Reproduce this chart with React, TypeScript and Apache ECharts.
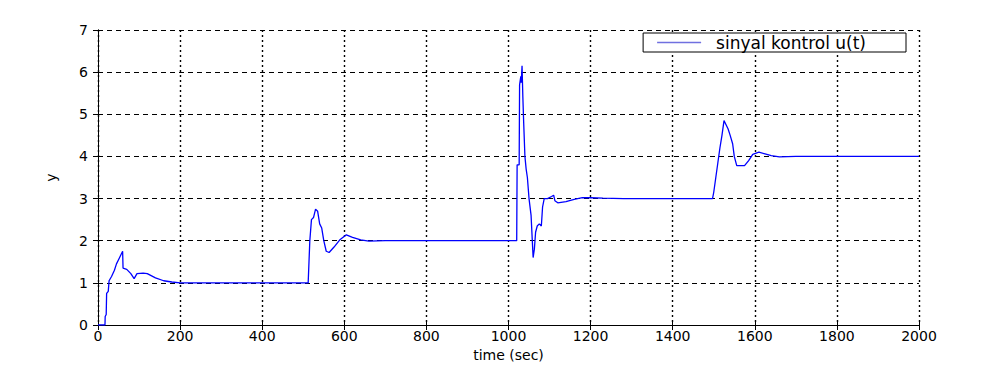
import React, { useEffect, useRef } from "react";
import * as echarts from "echarts";

const timeValues: number[] = [
  0, 17, 17.5, 20, 21, 25, 27, 33, 40, 45, 50, 55, 60, 61, 70, 80, 88, 95, 110, 120, 140, 160, 180, 200,
  510, 512, 514, 516, 520, 525, 530, 535, 540, 545, 550, 556, 563, 575, 590, 605, 620, 640, 660, 700,
  1020, 1021, 1026, 1027, 1030, 1031, 1033, 1035, 1037, 1040, 1043, 1046, 1050, 1055, 1058, 1060, 1063,
  1066, 1070, 1075, 1080, 1083, 1087, 1095, 1105, 1110, 1113, 1120, 1140, 1160, 1180, 1200, 1230, 1280,
  1497, 1500, 1505, 1510, 1515, 1520, 1525, 1530, 1535, 1540, 1546, 1550, 1556, 1575, 1585, 1595, 1610,
  1625, 1640, 1660, 1700, 2000,
];
const signalValues: number[] = [
  0, 0, 0.2, 0.25, 0.75, 0.8, 1.05, 1.15, 1.3, 1.45, 1.55, 1.65, 1.75, 1.35, 1.32, 1.22, 1.1, 1.22, 1.23, 1.22, 1.12, 1.05, 1.02, 1.0,
  1.0, 1.0, 1.5, 2.0, 2.5, 2.55, 2.75, 2.7, 2.4, 2.3, 2.0, 1.75, 1.72, 1.85, 2.03, 2.14, 2.08, 2.02, 1.99, 2.0,
  2.0, 3.8, 3.8, 5.7, 5.9, 5.75, 6.15, 5.4, 4.8, 4.0, 3.7, 3.5, 3.0, 2.6, 2.0, 1.6, 1.8,
  2.2, 2.35, 2.4, 2.35, 2.8, 3.0, 3.0, 3.05, 3.08, 2.95, 2.9, 2.93, 2.98, 3.02, 3.02, 3.01, 3.0,
  3.0, 3.15, 3.5, 3.85, 4.2, 4.5, 4.85, 4.75, 4.65, 4.5, 4.3, 4.0, 3.78, 3.78, 3.9, 4.05, 4.1,
  4.06, 4.02, 3.99, 4.0, 4.0,
];

const seriesName = "sinyal kontrol u(t)";
const xAxisTitle = "time (sec)";
const yAxisTitle = "y";

export default function App() {
  const ref = useRef<HTMLDivElement>(null);
  useEffect(() => {
    if (!ref.current) return;
    const chart = echarts.init(ref.current, undefined, { renderer: "svg" });
    const font = "DejaVu Sans";
    const labelStyle = { color: "#000", fontSize: 14, fontFamily: font };
    const gridLineX = { show: true, lineStyle: { color: "#000", type: [2, 3], width: 1.4 } };
    const gridLineY = { show: true, lineStyle: { color: "#000", type: [5, 4], width: 1 } };
    const plain = (v: number) => String(v);
    chart.setOption({
      animation: false,
      backgroundColor: "#fff",
      grid: { left: 98, right: 63, top: 30, bottom: 44 },
      legend: {
        data: [seriesName],
        right: 76,
        top: 33,
        backgroundColor: "#fff",
        borderColor: "#000",
        borderWidth: 1,
        padding: [0, 40, 0, 14],
        icon: "rect",
        itemWidth: 44,
        itemHeight: 1.5,
        itemStyle: { color: "#7070e0" },
        textStyle: { color: "#000", fontSize: 17, lineHeight: 19, fontFamily: font, padding: [0, 0, 0, 10] },
      },
      xAxis: [
        {
          type: "value",
          min: 0,
          max: 2000,
          interval: 200,
          name: xAxisTitle,
          nameLocation: "middle",
          nameGap: 21,
          nameTextStyle: { color: "#000", fontSize: 14, fontFamily: font },
          axisLine: { show: true, onZero: false, lineStyle: { color: "#000", width: 1 } },
          axisTick: { show: true, inside: true, length: 5, lineStyle: { color: "#000" } },
          axisLabel: { ...labelStyle, margin: 4, formatter: plain },
          splitLine: gridLineX,
        },
        {
          type: "value",
          position: "top",
          min: 0,
          max: 2000,
          interval: 200,
          axisLine: { show: true, lineStyle: { color: "#000", width: 1 } },
          axisTick: { show: true, inside: true, length: 5, lineStyle: { color: "#000" } },
          axisLabel: { show: false },
          splitLine: { show: false },
        },
      ],
      yAxis: [
        {
          type: "value",
          min: 0,
          max: 7,
          interval: 1,
          name: yAxisTitle,
          nameLocation: "middle",
          nameGap: 40,
          nameTextStyle: { color: "#000", fontSize: 14, fontFamily: font },
          axisLine: { show: true, onZero: false, lineStyle: { color: "#000", width: 1 } },
          axisTick: { show: true, inside: true, length: 5, lineStyle: { color: "#000" } },
          axisLabel: { ...labelStyle, margin: 10, formatter: plain },
          splitLine: gridLineY,
        },
        {
          type: "value",
          position: "right",
          min: 0,
          max: 7,
          interval: 1,
          axisLine: { show: true, lineStyle: { color: "#000", width: 1 } },
          axisTick: { show: true, inside: true, length: 5, lineStyle: { color: "#000" } },
          axisLabel: { show: false },
          splitLine: { show: false },
        },
      ],
      series: [
        {
          name: seriesName,
          type: "line",
          xAxisIndex: 0,
          yAxisIndex: 0,
          symbol: "none",
          lineStyle: { color: "#0000ff", width: 1.3 },
          itemStyle: { color: "#0000ff" },
          data: timeValues.map((t, i) => [t, signalValues[i]]),
          z: 5,
        },
      ],
    });
    return () => chart.dispose();
  }, []);
  return (
    <div
      ref={ref}
      style={{ position: "fixed", left: 0, top: 0, width: 982, height: 369 }}
    />
  );
}
